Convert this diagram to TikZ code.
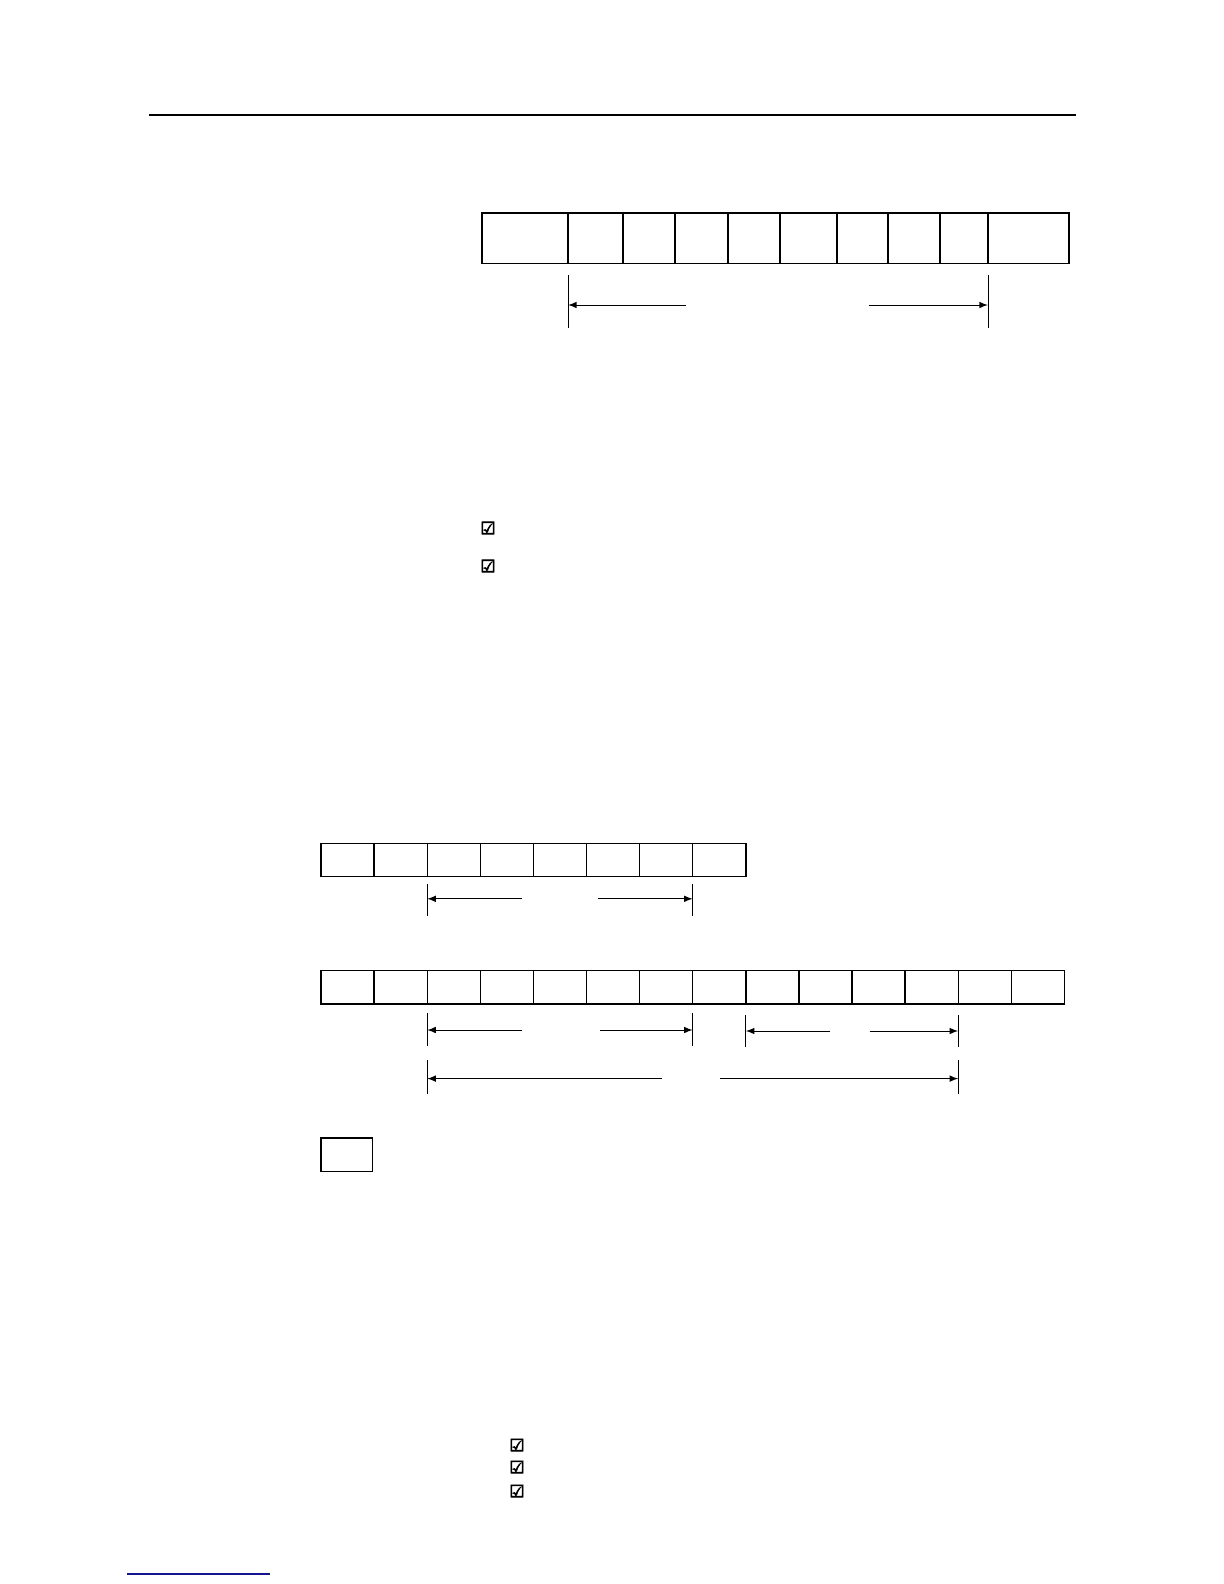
\documentclass[tikz,border=0pt]{standalone}
\usepackage{fontspec}
\usepackage{tikz}
\usetikzlibrary{arrows,positioning}
\newfontfamily\boxfont[FakeBold=4]{DejaVu Sans}
\definecolor{linkblue}{RGB}{20,20,140}

\begin{document}
\begin{tikzpicture}[x=1bp,y=-1bp]
  \tikzstyle{every node}+=[inner sep=0pt, outer sep=0pt]
  \tikzstyle{topcell}=[draw, line width=0.7bp, minimum height=25.25bp]
  \tikzstyle{cell}=[draw, line width=0.7bp, minimum height=16.65bp, minimum width=26.55bp]
  \tikzstyle{dimline}=[line width=0.5bp]
  \tikzstyle{dimarrow}=[line width=0.5bp, -latex]
  \tikzstyle{ticked}=[font=\boxfont\fontsize{8.5}{8.5}\selectfont]
  \useasboundingbox (0,0) rectangle (612,792);
  % page rule
  \draw [line width=1bp] (74.25,57.5) -- (538,57.5);
  % frame at the top
  \node [topcell, minimum width=43bp] (t1) at (262.5,119.1) {};
  \node [topcell, minimum width=27.5bp] (t2) at (297.75,119.1) {};
  \node [topcell, minimum width=26bp] (t3) at (324.5,119.1) {};
  \node [topcell, minimum width=26.5bp] (t4) at (350.75,119.1) {};
  \node [topcell, minimum width=26bp] (t5) at (377,119.1) {};
  \node [topcell, minimum width=28.5bp] (t6) at (404.25,119.1) {};
  \node [topcell, minimum width=25.5bp] (t7) at (431.25,119.1) {};
  \node [topcell, minimum width=26bp] (t8) at (457,119.1) {};
  \node [topcell, minimum width=24bp] (t9) at (482,119.1) {};
  \node [topcell, minimum width=40.5bp] (t10) at (514.25,119.1) {};
  \coordinate (tl) at (342.9,152.5);
  \coordinate (tr) at (434.25,152.5);
  \draw [dimline] ([yshift=-5.75bp]t2.south west) -- ++(0,26.5);
  \draw [dimline] ([yshift=-5.75bp]t10.south west) -- ++(0,26.5);
  \draw [dimarrow] (tl) -- (tl -| t2.west);
  \draw [dimarrow] (tr) -- (tr -| t10.west);
  % check boxes
  \node [ticked] (c1) at (244,264) {☑};
  \node [ticked] (c2) at (244,283) {☑};
  % first row of bytes
  \node [cell] (m1) at (173.775,430) {};
  \node [cell, right=0pt of m1] (m2) {};
  \node [cell, right=0pt of m2] (m3) {};
  \node [cell, right=0pt of m3] (m4) {};
  \node [cell, right=0pt of m4] (m5) {};
  \node [cell, right=0pt of m5] (m6) {};
  \node [cell, right=0pt of m6] (m7) {};
  \node [cell, right=0pt of m7] (m8) {};
  \coordinate (ml) at (261,449.4);
  \coordinate (mr) at (299,449.4);
  \draw [dimline] ([yshift=-3.5bp]m3.south west) -- ++(0,16.2);
  \draw [dimline] ([yshift=-3.5bp]m8.south west) -- ++(0,16.2);
  \draw [dimarrow] (ml) -- (ml -| m3.west);
  \draw [dimarrow] (mr) -- (mr -| m8.west);
  % second row of bytes
  \node [cell] (n1) at (173.775,493.6) {};
  \node [cell, right=0pt of n1] (n2) {};
  \node [cell, right=0pt of n2] (n3) {};
  \node [cell, right=0pt of n3] (n4) {};
  \node [cell, right=0pt of n4] (n5) {};
  \node [cell, right=0pt of n5] (n6) {};
  \node [cell, right=0pt of n6] (n7) {};
  \node [cell, right=0pt of n7] (n8) {};
  \node [cell, right=0pt of n8] (n9) {};
  \node [cell, right=0pt of n9] (n10) {};
  \node [cell, right=0pt of n10] (n11) {};
  \node [cell, right=0pt of n11] (n12) {};
  \node [cell, right=0pt of n12] (n13) {};
  \node [cell, right=0pt of n13] (n14) {};
  \coordinate (al) at (261,515);
  \coordinate (ar) at (300,515);
  \draw [dimline] ([yshift=-4.6bp]n3.south west) -- ++(0,16.5);
  \draw [dimline] ([yshift=-4.6bp]n8.south west) -- ++(0,16.5);
  \draw [dimarrow] (al) -- (al -| n3.west);
  \draw [dimarrow] (ar) -- (ar -| n8.west);
  \coordinate (bl) at (415,515.5);
  \coordinate (br) at (434.75,515.5);
  \draw [dimline] ([yshift=-5.6bp]n9.south west) -- ++(0,16);
  \draw [dimline] ([yshift=-5.6bp]n13.south west) -- ++(0,16);
  \draw [dimarrow] (bl) -- (bl -| n9.west);
  \draw [dimarrow] (br) -- (br -| n13.west);
  \coordinate (cl) at (330.75,539.3);
  \coordinate (cr) at (360,539.3);
  \draw [dimline] ([yshift=-28.1bp]n3.south west) -- ++(0,17);
  \draw [dimline] ([yshift=-28.1bp]n13.south west) -- ++(0,17);
  \draw [dimarrow] (cl) -- (cl -| n3.west);
  \draw [dimarrow] (cr) -- (cr -| n13.west);
  % single byte
  \node [cell, minimum width=25.85bp] (s1) at (173.4,577.4) {};
  % check boxes
  \node [ticked] (c3) at (258.5,722.5) {☑};
  \node [ticked] (c4) at (258.5,733.5) {☑};
  \node [ticked] (c5) at (258.5,745.5) {☑};
  % link line
  \draw [linkblue, line width=0.75bp] (63.5,787) -- (135,787);
\end{tikzpicture}
\end{document}
